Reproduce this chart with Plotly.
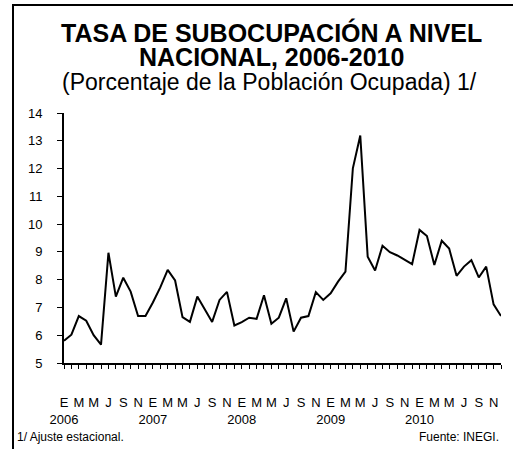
import plotly.graph_objects as go

# Monthly series, Jan 2006 - Dec 2010 (seasonally adjusted underemployment rate, %)
years = ["2006", "2007", "2008", "2009", "2010"]
month_letters = ["E", "", "M", "", "M", "", "J", "", "S", "", "N", ""]
values_2006 = [5.80, 6.02, 6.69, 6.52, 6.00, 5.66, 8.97, 7.39, 8.07, 7.57, 6.69, 6.69]
values_2007 = [7.18, 7.72, 8.35, 7.97, 6.65, 6.48, 7.39, 6.93, 6.48, 7.27, 7.56, 6.35]
values_2008 = [6.47, 6.63, 6.59, 7.44, 6.41, 6.63, 7.33, 6.13, 6.63, 6.69, 7.55, 7.27]
values_2009 = [7.51, 7.93, 8.29, 12.01, 13.19, 8.83, 8.33, 9.22, 8.99, 8.87, 8.71, 8.56]
values_2010 = [9.79, 9.57, 8.53, 9.40, 9.12, 8.14, 8.47, 8.70, 8.08, 8.47, 7.11, 6.69]

values = values_2006 + values_2007 + values_2008 + values_2009 + values_2010
x = list(range(len(values)))

ticktext = []
for yr in years:
    for k, m in enumerate(month_letters):
        if k == 0:
            ticktext.append(m + "<br>" + yr)
        else:
            ticktext.append(m)

FONT = "Liberation Sans, Arial, sans-serif"

fig = go.Figure(
    go.Scatter(x=x, y=values, mode="lines",
               line=dict(color="black", width=2), hoverinfo="skip")
)

# pixel helpers for decorations (plot area 64..501 x 113..363)
L, R, T, B = 64, 12, 113, 86
W = 513 - L - R
H = 449 - T - B


def px(xp):
    return (xp - L) / W


def py(yp):
    return (449 - B - yp) / H


fig.update_layout(
    width=513, height=449,
    margin=dict(l=L, r=R, t=T, b=B),
    paper_bgcolor="white", plot_bgcolor="white",
    showlegend=False,
    font=dict(family=FONT, color="black"),
    xaxis=dict(
        range=[0, len(values) - 1],
        tickvals=x, ticktext=ticktext, tickangle=0,
        ticks="outside", ticklen=4, tickwidth=1, tickcolor="black",
        showline=True, linewidth=2, linecolor="black",
        showgrid=False, zeroline=False,
        tickfont=dict(size=13, family=FONT, color="black"),
        ticklabelstandoff=22,
    ),
    yaxis=dict(
        range=[5, 14], dtick=1, tick0=5,
        ticks="outside", ticklen=5, tickwidth=1, tickcolor="black",
        showline=True, linewidth=2, linecolor="black",
        showgrid=False, zeroline=False,
        tickfont=dict(size=13, family=FONT, color="black"),
        ticklabelstandoff=12,
    ),
    annotations=[
        dict(text="<b>TASA DE SUBOCUPACIÓN A NIVEL</b>", xref="paper", yref="paper",
             x=px(271), y=py(33), xanchor="center", yanchor="middle", showarrow=False,
             font=dict(size=25, family=FONT, color="black")),
        dict(text="<b>NACIONAL, 2006-2010</b>", xref="paper", yref="paper",
             x=px(271), y=py(57), xanchor="center", yanchor="middle", showarrow=False,
             font=dict(size=25, family=FONT, color="black")),
        dict(text="(Porcentaje de la Población Ocupada) 1/", xref="paper", yref="paper",
             x=px(269), y=py(82), xanchor="center", yanchor="middle", showarrow=False,
             font=dict(size=23, family=FONT, color="black")),
        dict(text="1/ Ajuste estacional.", xref="paper", yref="paper",
             x=px(15), y=py(437), xanchor="left", yanchor="middle", showarrow=False,
             font=dict(size=12, family=FONT, color="black")),
        dict(text="Fuente: INEGI.", xref="paper", yref="paper",
             x=px(501), y=py(437), xanchor="right", yanchor="middle", showarrow=False,
             font=dict(size=12, family=FONT, color="black")),
    ],
    shapes=[
        dict(type="line", xref="paper", yref="paper", x0=px(13), x1=px(13),
             y0=py(4), y1=py(452), line=dict(color="black", width=2), layer="above"),
        dict(type="line", xref="paper", yref="paper", x0=px(12), x1=px(514),
             y0=py(5), y1=py(5), line=dict(color="black", width=2), layer="above"),
    ],
)

fig.write_html("out.html", config={"displayModeBar": False},
               post_script="document.body.style.margin='0px';")
